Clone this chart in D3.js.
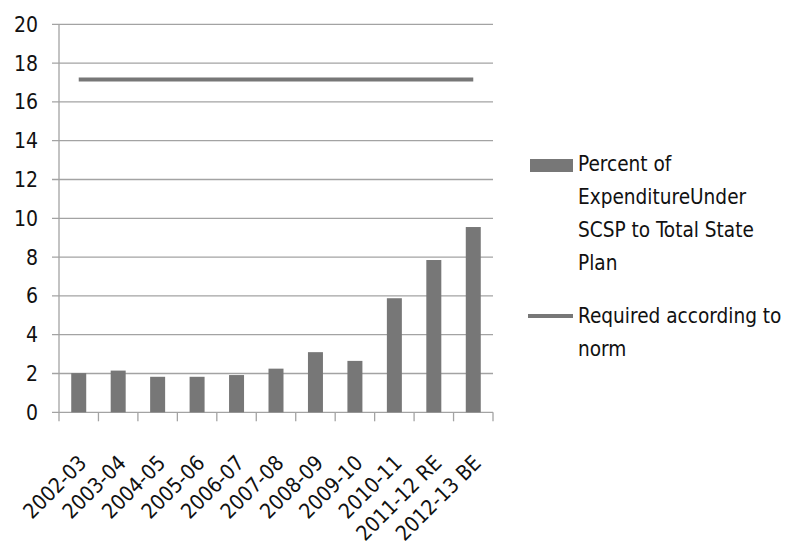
<!DOCTYPE html>
<html><head><meta charset="utf-8">
<script src="https://cdn.jsdelivr.net/npm/d3@7"></script>
<style>
body{margin:0;background:#fff;}
text{font-family:"DejaVu Sans Condensed","DejaVu Sans",sans-serif;font-stretch:condensed;fill:#111;}
</style></head>
<body><svg id="c" width="785" height="549"></svg>
<script>
const categories = ["2002-03","2003-04","2004-05","2005-06","2006-07","2007-08","2008-09","2009-10","2010-11","2011-12 RE","2012-13 BE"];
const percentValues = [2.02, 2.15, 1.83, 1.83, 1.92, 2.25, 3.1, 2.65, 5.88, 7.85, 9.55];
const requiredValues = [17.15, 17.15, 17.15, 17.15, 17.15, 17.15, 17.15, 17.15, 17.15, 17.15, 17.15];
const yTicks = [0,2,4,6,8,10,12,14,16,18,20];
const legendLabels = [["Percent of","ExpenditureUnder","SCSP to Total State","Plan"],["Required according to","norm"]];

const svg = d3.select("#c");
const pLeft = 59, pRight = 493, pTop = 24.3, pBottom = 412.3;
const x = d3.scaleBand().domain(categories).range([pLeft, pRight]).paddingInner(0).paddingOuter(0);
const y = d3.scaleLinear().domain([0,20]).range([pBottom, pTop]);
const gridColor = "#a3a3a3";
const barColor = "#777777";
const fs = 21;

// grid + y ticks
svg.append("g").selectAll("line").data(yTicks).join("line")
  .attr("x1", pLeft - 7).attr("x2", pRight)
  .attr("y1", d => y(d)).attr("y2", d => y(d))
  .attr("stroke", gridColor).attr("stroke-width", 1.3);
svg.append("g").selectAll("text").data(yTicks).join("text")
  .attr("x", 38).attr("y", d => y(d)).attr("dy", "0.36em")
  .attr("text-anchor", "end").attr("font-size", fs).text(d => d);

// y axis line
svg.append("line").attr("x1", pLeft).attr("x2", pLeft).attr("y1", pTop).attr("y2", pBottom + 9)
  .attr("stroke", gridColor).attr("stroke-width", 1.3);
// x ticks
const bounds = categories.map(c => x(c)).concat([pRight]);
svg.append("g").selectAll("line").data(bounds.slice(1)).join("line")
  .attr("x1", d => d).attr("x2", d => d).attr("y1", pBottom).attr("y2", pBottom + 9)
  .attr("stroke", gridColor).attr("stroke-width", 1.3);

// bars
const bw = x.bandwidth() * 0.38;
svg.append("g").selectAll("rect").data(percentValues).join("rect")
  .attr("x", (d,i) => x(categories[i]) + x.bandwidth()/2 - bw/2)
  .attr("width", bw)
  .attr("y", d => y(d)).attr("height", d => y(0) - y(d))
  .attr("fill", barColor);

// line
const line = d3.line().x((d,i) => x(categories[i]) + x.bandwidth()/2).y(d => y(d));
svg.append("path").attr("d", line(requiredValues)).attr("fill", "none")
  .attr("stroke", barColor).attr("stroke-width", 4);

// x labels
svg.append("g").selectAll("text").data(categories).join("text")
  .attr("transform", d => `translate(${x(d) + x.bandwidth()/2 + 9},${pBottom + 52}) rotate(-45)`)
  .attr("text-anchor", "end").attr("font-size", fs).text(d => d);

// legend
const lg = svg.append("g");
lg.append("rect").attr("x", 530).attr("y", 159).attr("width", 43).attr("height", 13).attr("fill", barColor);
const t1 = lg.append("text").attr("x", 578).attr("y", 171).attr("font-size", 20.6);
legendLabels[0].forEach((s,i) => t1.append("tspan").attr("x", 578).attr("dy", i ? 33 : 0).text(s));
lg.append("line").attr("x1", 528).attr("x2", 573).attr("y1", 316).attr("y2", 316)
  .attr("stroke", barColor).attr("stroke-width", 4);
const t2 = lg.append("text").attr("x", 578).attr("y", 323).attr("font-size", 20.6);
legendLabels[1].forEach((s,i) => t2.append("tspan").attr("x", 578).attr("dy", i ? 33 : 0).text(s));
</script></body></html>
